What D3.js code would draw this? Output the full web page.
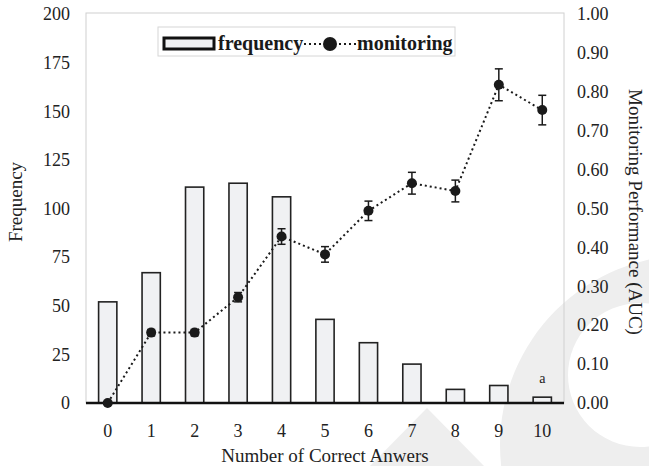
<!DOCTYPE html>
<html>
<head>
<meta charset="utf-8">
<script src="https://cdn.jsdelivr.net/npm/d3@7"></script>
<style>
  body { margin: 0; background: #fff; }
  svg { display: block; font-family: 'Liberation Serif', 'Times New Roman', serif; }
</style>
</head>
<body>
<svg></svg>
<script>
// data
let categories = [0, 1, 2, 3, 4, 5, 6, 7, 8, 9, 10]
let frequency = [52, 67, 111, 113, 106, 43, 31, 20, 7, 9, 3]
let monitoring = [0.00, 0.181, 0.181, 0.272, 0.428, 0.382, 0.494, 0.565, 0.545, 0.818, 0.753]
let monitoringErr = [0, 0.008, 0.008, 0.012, 0.02, 0.02, 0.025, 0.028, 0.028, 0.041, 0.038]
let leftTicks = [0, 25, 50, 75, 100, 125, 150, 175, 200]
let rightTicks = [0, 0.1, 0.2, 0.3, 0.4, 0.5, 0.6, 0.7, 0.8, 0.9, 1.0]

let width = 649
let height = 466
let plotLeft = 86, plotRight = 564, plotTop = 13, plotBottom = 403

let svg = d3.select('svg').attr('width', width).attr('height', height)

let xScale = d3.scaleBand()
    .domain(categories)
    .range([plotLeft, plotRight])
    .paddingInner(0.58)
    .paddingOuter(0.29)

let yLeft = d3.scaleLinear().domain([0, 200]).range([plotBottom, plotTop + 1])
let yRight = d3.scaleLinear().domain([0, 1]).range([plotBottom, plotTop + 1])

// faint watermark behind the chart
let wm = svg.append('g').attr('fill', '#eeeeee')
wm.append('path')
    .attr('fill-rule', 'evenodd')
    .attr('d', () => {
        let p = d3.path()
        p.moveTo(690 + 190, 445)
        p.arc(690, 445, 190, 0, 2 * Math.PI)
        p.moveTo(640 + 72, 375)
        p.arc(640, 375, 72, 0, 2 * Math.PI)
        return p.toString()
    })
wm.append('path').attr('d', 'M427,408 L370,466 L484,466 Z')

// plot frame
svg.append('rect')
    .attr('x', plotLeft).attr('y', plotTop)
    .attr('width', plotRight - plotLeft).attr('height', plotBottom - plotTop)
    .attr('fill', 'none')
    .attr('stroke', '#d0d0d0')
    .attr('stroke-width', 1)

// bars
svg.selectAll('rect.bar')
    .data(categories)
    .enter()
    .append('rect')
    .attr('class', 'bar')
    .attr('x', (d) => xScale(d))
    .attr('y', (d, i) => yLeft(frequency[i]))
    .attr('width', xScale.bandwidth())
    .attr('height', (d, i) => plotBottom - yLeft(frequency[i]))
    .attr('fill', '#f0f1f3')
    .attr('stroke', '#222')
    .attr('stroke-width', 1.6)

// bottom axis line
svg.append('line')
    .attr('x1', plotLeft).attr('x2', plotRight)
    .attr('y1', plotBottom).attr('y2', plotBottom)
    .attr('stroke', '#111')
    .attr('stroke-width', 2.5)

// axes
let styleAxis = (g, size) => {
    g.select('.domain').remove()
    g.selectAll('text').attr('fill', '#222').style('font-size', size + 'px')
        .style('font-family', "'Liberation Serif', serif")
}

svg.append('g')
    .attr('transform', 'translate(' + plotLeft + ',0)')
    .call(d3.axisLeft(yLeft).tickValues(leftTicks).tickSize(0).tickPadding(16))
    .call((g) => styleAxis(g, 18))

svg.append('g')
    .attr('transform', 'translate(' + plotRight + ',0)')
    .call(d3.axisRight(yRight).tickValues(rightTicks).tickSize(0).tickPadding(13).tickFormat(d3.format('.2f')))
    .call((g) => styleAxis(g, 18))

svg.append('g')
    .attr('transform', 'translate(0,' + plotBottom + ')')
    .call(d3.axisBottom(xScale).tickSize(0).tickPadding(21))
    .call((g) => styleAxis(g, 18))

// monitoring line
let cx = (i) => xScale(categories[i]) + xScale.bandwidth() / 2

let line = d3.line()
    .x((d, i) => cx(i))
    .y((d) => yRight(d))

svg.append('path')
    .datum(monitoring)
    .attr('d', line)
    .attr('fill', 'none')
    .attr('stroke', '#1a1a1a')
    .attr('stroke-width', 2)
    .attr('stroke-dasharray', '2,3')

// error bars
let eb = svg.append('g').attr('stroke', '#1a1a1a').attr('stroke-width', 1.5)
monitoring.forEach((v, i) => {
    let e = monitoringErr[i]
    if (e <= 0) return
    let x = cx(i)
    eb.append('line').attr('x1', x).attr('x2', x).attr('y1', yRight(v - e)).attr('y2', yRight(v + e))
    eb.append('line').attr('x1', x - 4).attr('x2', x + 4).attr('y1', yRight(v - e)).attr('y2', yRight(v - e))
    eb.append('line').attr('x1', x - 4).attr('x2', x + 4).attr('y1', yRight(v + e)).attr('y2', yRight(v + e))
})

svg.selectAll('circle.pt')
    .data(monitoring)
    .enter()
    .append('circle')
    .attr('class', 'pt')
    .attr('cx', (d, i) => cx(i))
    .attr('cy', (d) => yRight(d))
    .attr('r', 5)
    .attr('fill', '#1a1a1a')

// "a" note above last bar
svg.append('text')
    .attr('x', cx(10))
    .attr('y', yLeft(frequency[10]) - 14)
    .attr('text-anchor', 'middle')
    .style('font-size', '14px')
    .attr('fill', '#222')
    .text('a')

// axis titles
svg.append('text')
    .attr('x', (plotLeft + plotRight) / 2)
    .attr('y', 462)
    .attr('text-anchor', 'middle')
    .style('font-size', '19px')
    .attr('fill', '#222')
    .text('Number of Correct Anwers')

svg.append('text')
    .attr('transform', 'translate(22,' + 202 + ') rotate(-90)')
    .attr('text-anchor', 'middle')
    .style('font-size', '19px')
    .attr('fill', '#222')
    .text('Frequency')

svg.append('text')
    .attr('transform', 'translate(629,' + 212 + ') rotate(90)')
    .attr('text-anchor', 'middle')
    .style('font-size', '19px')
    .attr('fill', '#222')
    .text('Monitoring Performance (AUC)')

// legend
let lg = svg.append('g')
lg.append('rect')
    .attr('x', 158).attr('y', 27).attr('width', 297).attr('height', 29)
    .attr('fill', '#fff').attr('stroke', '#d6d6d6')
lg.append('rect')
    .attr('x', 164).attr('y', 38).attr('width', 50).attr('height', 11)
    .attr('fill', '#f0f1f3').attr('stroke', '#111').attr('stroke-width', 3)
lg.append('text')
    .attr('x', 218).attr('y', 50)
    .style('font-size', '20px').style('font-weight', 'bold')
    .attr('fill', '#1a1a1a')
    .text('frequency')
lg.append('line')
    .attr('x1', 304).attr('x2', 356).attr('y1', 44).attr('y2', 44)
    .attr('stroke', '#1a1a1a').attr('stroke-width', 2).attr('stroke-dasharray', '2,3')
lg.append('circle')
    .attr('cx', 330).attr('cy', 44).attr('r', 7)
    .attr('fill', '#1a1a1a')
lg.append('text')
    .attr('x', 357).attr('y', 50)
    .style('font-size', '20px').style('font-weight', 'bold')
    .attr('fill', '#1a1a1a')
    .text('monitoring')
</script>
</body>
</html>
